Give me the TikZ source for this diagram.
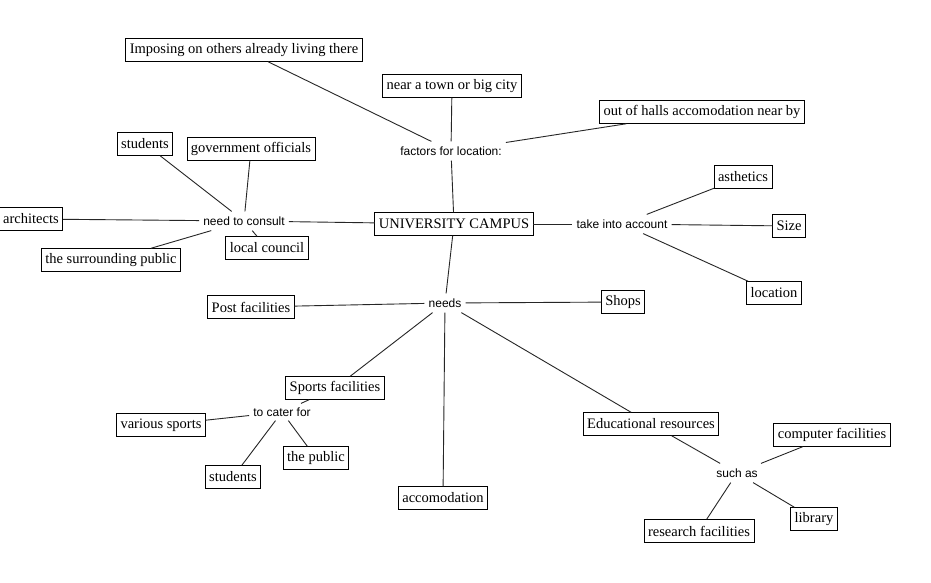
\documentclass[tikz,border=0pt]{standalone}
\usepackage{fontspec}
\setmainfont{Liberation Serif}
\newfontfamily\lsans{Liberation Sans}
\begin{document}
\begin{tikzpicture}[x=1pt,y=-1pt,
  cbox/.style={draw=black, line width=0.8pt, fill=white, font=\fontsize{14.5}{16}\selectfont,
     inner xsep=4pt, inner ysep=2pt, minimum height=23.5pt, outer sep=0pt},
  lnk/.style={font=\lsans\fontsize{12}{14}\selectfont, inner xsep=4pt, inner ysep=5pt, fill=white},
  conn/.style={draw=black!85, line width=0.9pt}]
\useasboundingbox[fill=white] (0,0) rectangle (931,583);

% top cluster
\node[cbox] (impose) at (244,50) {Imposing on others already living there};
\node[cbox] (town) at (452,86) {near a town or big city};
\node[cbox] (halls) at (702,112) {out of halls accomodation near by};
\node[lnk] (factors) at (451,151) {factors for location:};

% central
\node[cbox] (campus) at (454,224) {UNIVERSITY CAMPUS};

% left cluster
\node[lnk] (consult) at (244,221) {need to consult};
\node[cbox] (stud1) at (145,144) {students};
\node[cbox] (gov) at (251,149) {government officials};
\node[cbox] (arch) at (31,219) {architects};
\node[cbox] (public1) at (111,260) {the surrounding public};
\node[cbox] (council) at (267,248) {local council};

% right cluster
\node[lnk] (account) at (622,224) {take into account};
\node[cbox] (asth) at (743,177) {asthetics};
\node[cbox] (size) at (789,226) {Size};
\node[cbox] (loc) at (774,293) {location};

% needs cluster
\node[lnk] (needs) at (445,303) {needs};
\node[cbox] (post) at (251,307) {Post facilities};
\node[cbox] (shops) at (623,302) {Shops};
\node[cbox] (sports) at (335,388) {Sports facilities};
\node[cbox] (accom) at (443,498) {accomodation};
\node[cbox] (edu) at (651,424) {Educational resources};

% sports cluster
\node[lnk, inner ysep=4pt] (cater) at (282,412) {to cater for};
\node[cbox] (various) at (161,425) {various sports};
\node[cbox] (stud2) at (233,477) {students};
\node[cbox] (public2) at (316,458) {the public};

% education cluster
\node[lnk] (such) at (737,473) {such as};
\node[cbox] (comp) at (832,435) {computer facilities};
\node[cbox] (lib) at (814,519) {library};
\node[cbox] (res) at (699,531) {research facilities};

\draw[conn] (impose) -- (factors);
\draw[conn] (town) -- (factors);
\draw[conn] (factors) -- (halls);
\draw[conn] (factors) -- (campus);

\draw[conn] (campus) -- (consult);
\draw[conn] (consult) -- (stud1);
\draw[conn] (consult) -- (gov);
\draw[conn] (consult) -- (arch);
\draw[conn] (consult) -- (public1);
\draw[conn] (consult) -- (council);

\draw[conn] (campus) -- (account);
\draw[conn] (account) -- (asth);
\draw[conn] (account) -- (size);
\draw[conn] (account) -- (loc);

\draw[conn] (campus) -- (needs);
\draw[conn] (needs) -- (post);
\draw[conn] (needs) -- (shops);
\draw[conn] (needs) -- (sports);
\draw[conn] (needs) -- (accom);
\draw[conn] (needs) -- (edu);

\draw[conn] (sports) -- (cater);
\draw[conn] (cater) -- (various);
\draw[conn] (cater) -- (stud2);
\draw[conn] (cater) -- (public2);

\draw[conn] (edu) -- (such);
\draw[conn] (such) -- (comp);
\draw[conn] (such) -- (lib);
\draw[conn] (such) -- (res);
\end{tikzpicture}
\end{document}
